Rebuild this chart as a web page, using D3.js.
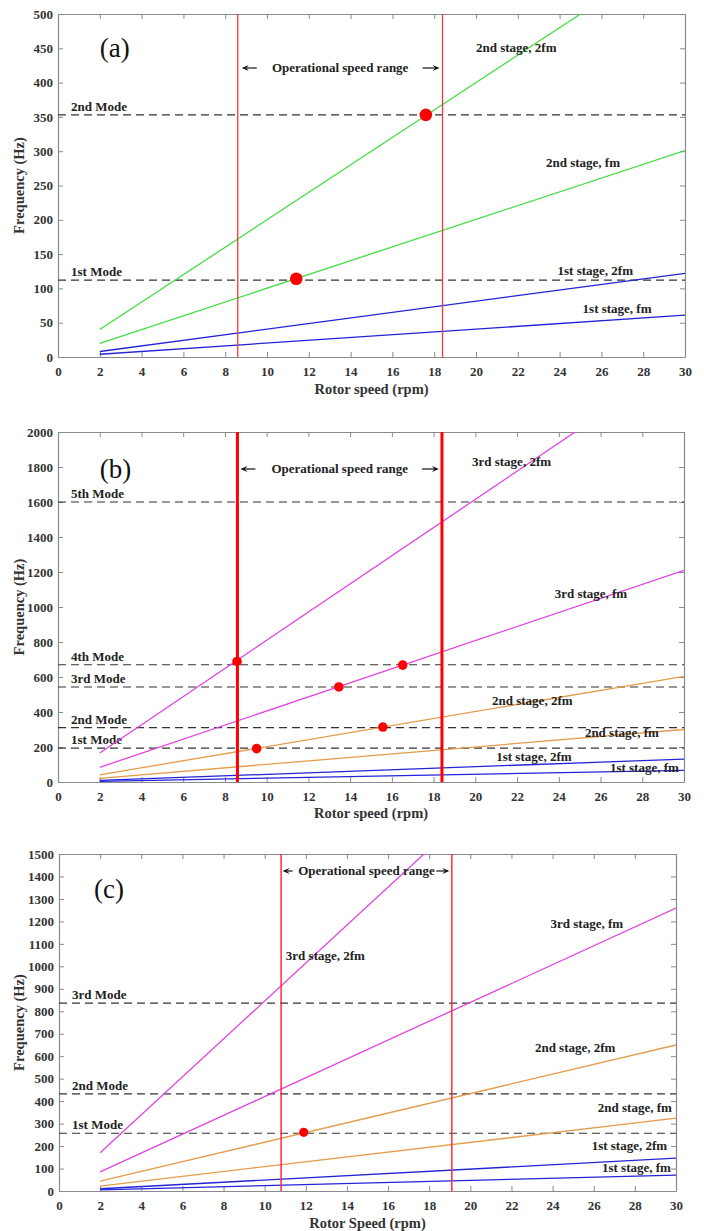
<!DOCTYPE html>
<html><head><meta charset="utf-8">
<script src="https://cdn.jsdelivr.net/npm/d3@7"></script>
<style>body{margin:0;background:#fff} svg{display:block}</style>
</head><body>
<svg id="chart" width="704" height="1231"></svg>
<script>
// ---------- DATA ----------
const speedEnds = [2, 30];                 // rpm at start / end of each line
const xTicks = d3.range(0, 31, 2);
const stageNames = ["1st stage, fm", "1st stage, 2fm", "2nd stage, fm", "2nd stage, 2fm", "3rd stage, fm", "3rd stage, 2fm"];

// Panel (a)
const aStage1fm  = [4, 61];
const aStage1_2fm = [8, 122];
const aStage2fm  = [20, 301];
const aStage2_2fm = [40, 600];
const aModes = [112, 353];
const aModeNames = ["1st Mode", "2nd Mode"];
const aOpRange = [8.6, 18.4];
const aHits = [[11.4, 114], [17.6, 353]];
const aYTicks = d3.range(0, 501, 50);

// Panel (b)
const bStage1fm  = [4, 66];
const bStage1_2fm = [9, 131];
const bStage2fm  = [21, 300];
const bStage2_2fm = [41, 604];
const bStage3fm  = [84, 1210];
const bStage3_2fm = [166, 2420];
const bModes = [194, 311, 543, 670, 1600];
const bModeNames = ["1st Mode", "2nd Mode", "3rd Mode", "4th Mode", "5th Mode"];
const bOpRange = [8.6, 18.4];
const bHits = [[8.58, 689], [9.52, 191], [13.46, 543], [15.57, 314], [16.52, 668]];
const bYTicks = d3.range(0, 2001, 200);

// Panel (c)
const cStage1fm  = [5, 71];
const cStage1_2fm = [10, 146];
const cStage2fm  = [22, 324];
const cStage2_2fm = [44, 650];
const cStage3fm  = [85, 1259];
const cStage3_2fm = [170, 2535];
const cModes = [257, 432, 836];
const cModeNames = ["1st Mode", "2nd Mode", "3rd Mode"];
const cOpRange = [10.8, 19.1];
const cHits = [[11.9, 261]];
const cYTicks = d3.range(0, 1501, 100);

// ---------- STYLE / LAYOUT ----------
const BLUE = "#2323d8", GREEN = "#44dd44", ORANGE = "#e59c4c", MAGENTA = "#e044e0";
const FONT = "'Liberation Serif','Times New Roman',serif";

const panels = [
  {
    tag: "(a)", tagPos: [2.0, 437], box: [58, 685, 14, 357], yMax: 500, yTicks: aYTicks,
    xTitle: "Rotor speed (rpm)", xTitleY: 394, modes: aModes, modeNames: aModeNames,
    opRange: aOpRange, opY: 72, redW: 1.3, red: "#f03a3a", hits: aHits, hitR: 6.3,
    arrows: {lTip: 4, lLen: 15, rTip: 3, rLen: 17},
    series: [
      {name: stageNames[0], v: aStage1fm, c: BLUE, lab: [25.1, 64]},
      {name: stageNames[1], v: aStage1_2fm, c: BLUE, lab: [23.9, 119.5]},
      {name: stageNames[2], v: aStage2fm, c: GREEN, lab: [23.35, 277]},
      {name: stageNames[3], v: aStage2_2fm, c: GREEN, lab: [20.0, 444.6]}
    ]
  },
  {
    tag: "(b)", tagPos: [2.0, 1736], box: [58, 684, 432, 782], yMax: 2000, yTicks: bYTicks,
    xTitle: "Rotor speed (rpm)", xTitleY: 818, modes: bModes, modeNames: bModeNames,
    opRange: bOpRange, opY: 473, redW: 3, red: "#ff0000", hits: bHits, hitR: 4.8,
    arrows: {lTip: 3, lLen: 15, rTip: 3, rLen: 17},
    series: [
      {name: stageNames[0], v: bStage1fm, c: BLUE, lab: [26.45, 55]},
      {name: stageNames[1], v: bStage1_2fm, c: BLUE, lab: [21.0, 118]},
      {name: stageNames[2], v: bStage2fm, c: ORANGE, lab: [25.25, 255]},
      {name: stageNames[3], v: bStage2_2fm, c: ORANGE, lab: [20.8, 438]},
      {name: stageNames[4], v: bStage3fm, c: MAGENTA, lab: [23.8, 1050]},
      {name: stageNames[5], v: bStage3_2fm, c: MAGENTA, lab: [19.84, 1804]}
    ]
  },
  {
    tag: "(c)", tagPos: [1.7, 1305], box: [59, 676, 854, 1191], yMax: 1500, yTicks: cYTicks,
    xTitle: "Rotor Speed (rpm)", xTitleY: 1228, modes: cModes, modeNames: cModeNames,
    opRange: cOpRange, opY: 875, redW: 1.5, red: "#ff2a3a", hits: cHits, hitR: 4.6,
    arrows: {lTip: 1.5, lLen: 10, rTip: 2.5, rLen: 13},
    series: [
      {name: stageNames[0], v: cStage1fm, c: BLUE, lab: [26.4, 85]},
      {name: stageNames[1], v: cStage1_2fm, c: BLUE, lab: [25.9, 183]},
      {name: stageNames[2], v: cStage2fm, c: ORANGE, lab: [26.2, 352]},
      {name: stageNames[3], v: cStage2_2fm, c: ORANGE, lab: [23.14, 619]},
      {name: stageNames[4], v: cStage3fm, c: MAGENTA, lab: [23.9, 1171]},
      {name: stageNames[5], v: cStage3_2fm, c: MAGENTA, lab: [11.03, 1029]}
    ]
  }
];

const svg = d3.select("#chart");

function arrow(g, tail, tip, y) {
  const dir = Math.sign(tip - tail);
  g.append("line").attr("x1", tail).attr("x2", tip - dir * 5).attr("y1", y).attr("y2", y)
    .attr("stroke", "#111").attr("stroke-width", 1.2);
  const L = 7, W = 3;
  g.append("path")
    .attr("d", `M${tip},${y} L${tip - dir * L},${y - W} L${tip - dir * (L - 2.5)},${y} L${tip - dir * L},${y + W} Z`)
    .attr("fill", "#111");
}

panels.forEach((p, i) => {
  const [x0, x1, y0, y1] = p.box;
  const g = svg.append("g");
  const x = d3.scaleLinear().domain([0, 30]).range([x0, x1]);
  const y = d3.scaleLinear().domain([0, p.yMax]).range([y1, y0]);

  g.append("clipPath").attr("id", "clip" + i).append("rect")
    .attr("x", x0).attr("y", y0).attr("width", x1 - x0).attr("height", y1 - y0);

  // axes
  const styleAxis = sel => {
    sel.selectAll(".domain").attr("stroke", "#8a8a8a").attr("stroke-width", 1.2);
    sel.selectAll(".tick line").attr("stroke", "#8a8a8a").attr("stroke-width", 1);
    sel.selectAll(".tick text").attr("font-family", FONT).attr("font-weight", "bold")
      .attr("font-size", 13).attr("fill", "#333");
  };
  const fmt = d3.format("d");
  g.append("g").attr("transform", `translate(0,${y1})`)
    .call(d3.axisBottom(x).tickValues(xTicks).tickFormat(fmt).tickSize(-5).tickSizeOuter(0).tickPadding(10))
    .call(styleAxis);
  g.append("g").attr("transform", `translate(0,${y0})`)
    .call(d3.axisTop(x).tickValues(xTicks).tickSize(-5).tickSizeOuter(0).tickFormat(""))
    .call(styleAxis);
  g.append("g").attr("transform", `translate(${x0},0)`)
    .call(d3.axisLeft(y).tickValues(p.yTicks).tickFormat(fmt).tickSize(-5).tickSizeOuter(0).tickPadding(5))
    .call(styleAxis);
  g.append("g").attr("transform", `translate(${x1},0)`)
    .call(d3.axisRight(y).tickValues(p.yTicks).tickSize(-5).tickSizeOuter(0).tickFormat(""))
    .call(styleAxis);

  // axis titles
  g.append("text").attr("x", (x0 + x1) / 2).attr("y", p.xTitleY).attr("text-anchor", "middle")
    .attr("font-family", FONT).attr("font-weight", "bold").attr("font-size", 14.5).attr("fill", "#333")
    .text(p.xTitle);
  g.append("text").attr("transform", `translate(24,${(y0 + y1) / 2}) rotate(-90)`).attr("text-anchor", "middle")
    .attr("font-family", FONT).attr("font-weight", "bold").attr("font-size", 14.5).attr("fill", "#333")
    .text("Frequency (Hz)");

  // mode lines
  p.modes.forEach((m, k) => {
    g.append("line").attr("x1", x0).attr("x2", x1).attr("y1", y(m)).attr("y2", y(m))
      .attr("stroke", "#333").attr("stroke-width", 1.2).attr("stroke-dasharray", "8,5");
    g.append("text").attr("x", x0 + 13).attr("y", y(m) - 4)
      .attr("font-family", FONT).attr("font-weight", "bold").attr("font-size", 13).attr("fill", "#222")
      .text(p.modeNames[k]);
  });

  // series lines
  const line = d3.line().x(d => x(d[0])).y(d => y(d[1]));
  p.series.forEach(s => {
    g.append("path").attr("clip-path", `url(#clip${i})`)
      .datum(speedEnds.map((r, k) => [r, s.v[k]]))
      .attr("d", line).attr("fill", "none").attr("stroke", s.c).attr("stroke-width", 1.3);
  });

  // operational range lines
  p.opRange.forEach(r => {
    g.append("line").attr("x1", x(r)).attr("x2", x(r)).attr("y1", y0).attr("y2", y1)
      .attr("stroke", p.red).attr("stroke-width", p.redW);
  });

  // series labels
  p.series.forEach(s => {
    g.append("text").attr("x", x(s.lab[0])).attr("y", y(s.lab[1]))
      .attr("font-family", FONT).attr("font-weight", "bold").attr("font-size", 13).attr("fill", "#222")
      .text(s.name);
  });

  // operational speed range annotation
  const xl = x(p.opRange[0]), xr = x(p.opRange[1]);
  g.append("text").attr("x", (xl + xr) / 2).attr("y", p.opY).attr("text-anchor", "middle")
    .attr("font-family", FONT).attr("font-weight", "bold").attr("font-size", 13).attr("fill", "#222")
    .text("Operational speed range");
  const ay = p.opY - 4;
  arrow(g, xl + p.arrows.lTip + p.arrows.lLen, xl + p.arrows.lTip, ay);
  arrow(g, xr - p.arrows.rTip - p.arrows.rLen, xr - p.arrows.rTip, ay);

  // intersection dots
  g.selectAll(null).data(p.hits).join("circle")
    .attr("cx", d => x(d[0])).attr("cy", d => y(d[1])).attr("r", p.hitR).attr("fill", "#ff0000");

  // panel tag
  g.append("text").attr("x", x(p.tagPos[0])).attr("y", y(p.tagPos[1]))
    .attr("font-family", FONT).attr("font-size", 27).attr("fill", "#111").text(p.tag);
});
</script>
</body></html>
